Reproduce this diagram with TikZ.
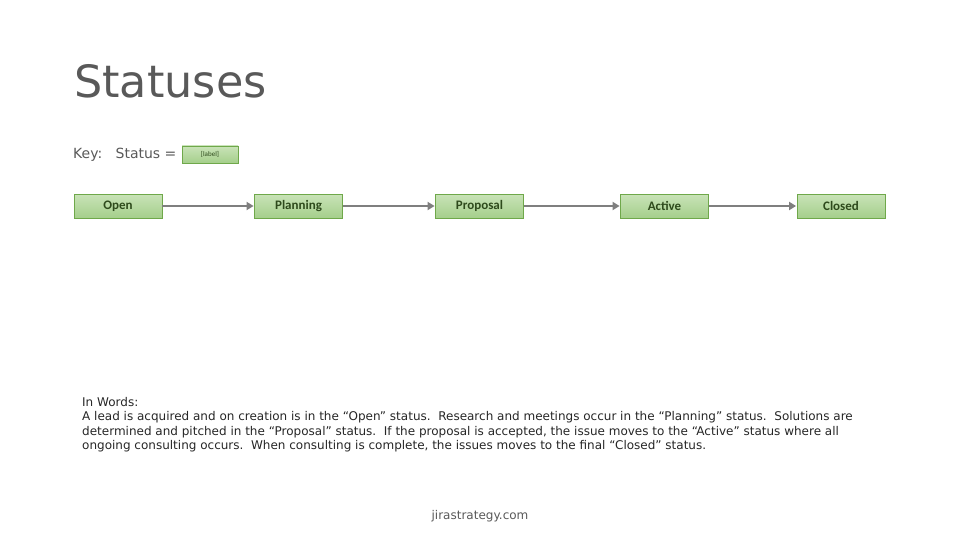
\documentclass[tikz,border=0pt]{standalone}
\usepackage{fontspec}
\setmainfont{DejaVu Sans}
\newfontfamily\boxfont{Carlito}
\newfontfamily\bodyfont{DejaVu Sans}
\usetikzlibrary{arrows.meta}
\definecolor{titlegrey}{HTML}{595959}
\definecolor{boxfillA}{HTML}{C9E3B8}
\definecolor{boxfillB}{HTML}{A5CF8B}
\definecolor{boxedge}{HTML}{6FA84A}
\definecolor{boxtext}{HTML}{2E4A1C}
\definecolor{arrowgrey}{HTML}{7F7F7F}
\tikzset{
  statusbox/.style={draw=boxedge, line width=0.8pt, top color=boxfillA, bottom color=boxfillB,
    minimum width=88pt, minimum height=24pt, inner sep=0pt, text=boxtext,
    font=\boxfont\bfseries\fontsize{13}{13}\selectfont},
  keybox/.style={statusbox, minimum width=56pt, minimum height=17pt, font=\boxfont\fontsize{7}{7}\selectfont},
  flow/.style={draw=arrowgrey, line width=2.6pt, -{Triangle[length=7pt,width=8pt]}, shorten >=0.5pt}
}
\begin{document}
\begin{tikzpicture}[x=1pt,y=-1pt]
\useasboundingbox (0,0) rectangle (960,540);
\node[anchor=base west, text=titlegrey, font=\fontsize{44.5}{44.5}\selectfont, inner sep=0pt] (title) at (74,98) {Statuses};
\node[anchor=west, text=titlegrey, font=\fontsize{14}{14}\selectfont, inner sep=0pt] (key) at (73,155) {Key:\ \ \ Status =};
\node[keybox] (keyb) at (210,154.5) {[label]};
\node[statusbox] (open) at (118,206) {Open};
\node[statusbox] (planning) at (298.5,206) {Planning};
\node[statusbox] (proposal) at (479.5,206) {Proposal};
\node[statusbox] (active) at (664.5,206) {Active};
\node[statusbox] (closed) at (841,206) {Closed};
\draw[flow] (open) -- (planning);
\draw[flow] (planning) -- (proposal);
\draw[flow] (proposal) -- (active);
\draw[flow] (active) -- (closed);
\node[anchor=north west, align=left, inner sep=0pt, text=black!85, font=\bodyfont\fontsize{12}{14.5}\selectfont] (words) at (82,397) {In Words:\\
A lead is acquired and on creation is in the “Open” status.\ \ Research and meetings occur in the “Planning” status.\ \ Solutions are\\
determined and pitched in the “Proposal” status.\ \ If the proposal is accepted, the issue moves to the “Active” status where all\\
ongoing consulting occurs.\ \ When consulting is complete, the issues moves to the final “Closed” status.};
\node[text=titlegrey, font=\fontsize{12}{12}\selectfont, inner sep=0pt] (footer) at (480,516) {jirastrategy.com};
\end{tikzpicture}
\end{document}
